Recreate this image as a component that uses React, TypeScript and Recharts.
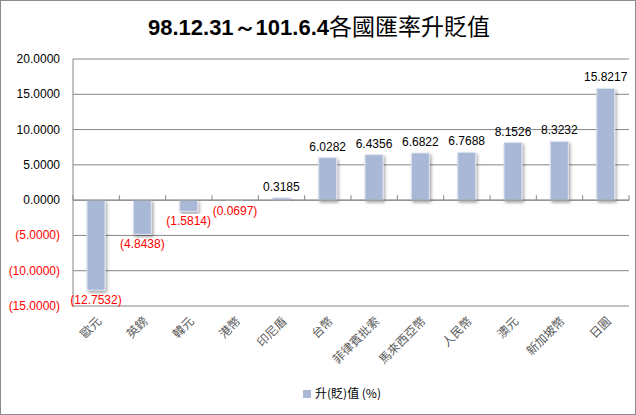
import {
  Bar,
  BarChart,
  CartesianGrid,
  LabelList,
  Legend,
  ReferenceLine,
  XAxis,
  YAxis,
} from "recharts"

const currencies = ["歐元", "英鎊", "韓元", "港幣", "印尼盾", "台幣", "菲律賓批索", "馬來西亞幣", "人民幣", "澳元", "新加坡幣", "日圓"]
const changes = [-12.7532, -4.8438, -1.5814, -0.0697, 0.3185, 6.0282, 6.4356, 6.6822, 6.7688, 8.1526, 8.3232, 15.8217]
const yTicks = [-15, -10, -5, 0, 5, 10, 15, 20]

const data = currencies.map((name, i) => ({ name, value: changes[i] }))

const BAR = "#a9b8d7"
const fmt = (v: number) => (v < 0 ? `(${Math.abs(v).toFixed(4)})` : v.toFixed(4))

function YTick({ x, y, payload }: any) {
  const v = payload.value as number
  return (
    <text x={x - 5} y={y} dy={4} textAnchor="end" fontSize={12} fontFamily="Liberation Sans, Arial" fill={v < 0 ? "#ff0000" : "#000"}>
      {fmt(v)}
    </text>
  )
}

function XTick({ x, y, payload }: any) {
  return (
    <text
      x={x + 6}
      y={y + 8}
      textAnchor="end"
      fontSize={12}
      fontFamily="Noto Sans CJK TC"
      fill="#595959"
      transform={`rotate(-45 ${x + 6} ${y + 8})`}
    >
      {payload.value}
    </text>
  )
}

function ValueLabel({ x, y, width, height, value }: any) {
  const v = value as number
  const cx = x + width / 2
  const top = Math.min(y, y + height)
  const bottom = Math.max(y, y + height)
  if (v < 0) {
    return (
      <text x={cx} y={bottom + 14} textAnchor="middle" fontSize={12} fontFamily="Liberation Sans, Arial" fill="#ff0000">
        {fmt(v)}
      </text>
    )
  }
  return (
    <text x={cx} y={top - 7} textAnchor="middle" fontSize={12} fontFamily="Liberation Sans, Arial" fill="#000">
      {fmt(v)}
    </text>
  )
}

// zero line with Excel-style tick marks between categories
function ZeroLine({ x1, y1, x2 }: any) {
  const n = currencies.length
  const step = (x2 - x1) / n
  const ticks = Array.from({ length: n + 1 }, (_, i) => x1 + i * step)
  return (
    <g>
      <line x1={x1} y1={y1} x2={x2} y2={y1} stroke="#868686" />
      {ticks.map((tx) => (
        <line key={tx} x1={tx} y1={y1} x2={tx} y2={y1 - 5} stroke="#868686" />
      ))}
    </g>
  )
}

export default function App() {
  return (
    <div
      style={{
        position: "relative",
        width: 636,
        height: 415,
        boxSizing: "border-box",
        border: "1px solid #8c8c8c",
        background: "#fff",
      }}
    >
      <style>{"body{margin:0}"}</style>
      <div
        style={{
          position: "absolute",
          top: 7,
          left: 0,
          width: 636,
          textAlign: "center",
          fontSize: 22,
          color: "#000",
          whiteSpace: "nowrap",
        }}
      >
        <span style={{ fontFamily: "Liberation Sans, Arial", fontWeight: "bold" }}>98.12.31～101.6.4</span>
        <span style={{ fontFamily: "Noto Sans CJK TC", fontSize: 23 }}>各國匯率升貶值</span>
      </div>
      <BarChart
        width={634}
        height={413}
        data={data}
        margin={{ top: 58, right: 6, left: 0, bottom: 0 }}
        barSize={18}
        style={{ position: "absolute", top: 0, left: 0 }}
      >
        <defs>
          <filter id="shadow" x="-30%" y="-10%" width="160%" height="130%">
            <feDropShadow dx="1.5" dy="2" stdDeviation="1.5" floodColor="#000" floodOpacity="0.35" />
          </filter>
        </defs>
        <CartesianGrid vertical={false} stroke="#868686" />
        <XAxis
          dataKey="name"
          interval={0}
          tick={<XTick />}
          tickLine={false}
          axisLine={false}
          height={53}
        />
        <YAxis
          domain={[-15, 20]}
          ticks={yTicks}
          tick={<YTick />}
          tickLine={false}
          axisLine={{ stroke: "#868686" }}
          width={72}
          interval={0}
        />
        <ReferenceLine y={0} shape={<ZeroLine />} />
        <Legend
          verticalAlign="bottom"
          height={36}
          iconType="square"
          iconSize={8}
          wrapperStyle={{ paddingTop: 19, paddingLeft: 32, top: 364 }}
          formatter={() => <span style={{ color: "#000", fontSize: 12, fontFamily: "Noto Sans CJK TC" }}>升(貶)值 (%)</span>}
        />
        <Bar dataKey="value" name="升(貶)值 (%)" fill={BAR} stroke="#dfe5f0" strokeWidth={1} filter="url(#shadow)" isAnimationActive={false}>
          <LabelList dataKey="value" content={<ValueLabel />} />
        </Bar>
      </BarChart>
    </div>
  )
}
